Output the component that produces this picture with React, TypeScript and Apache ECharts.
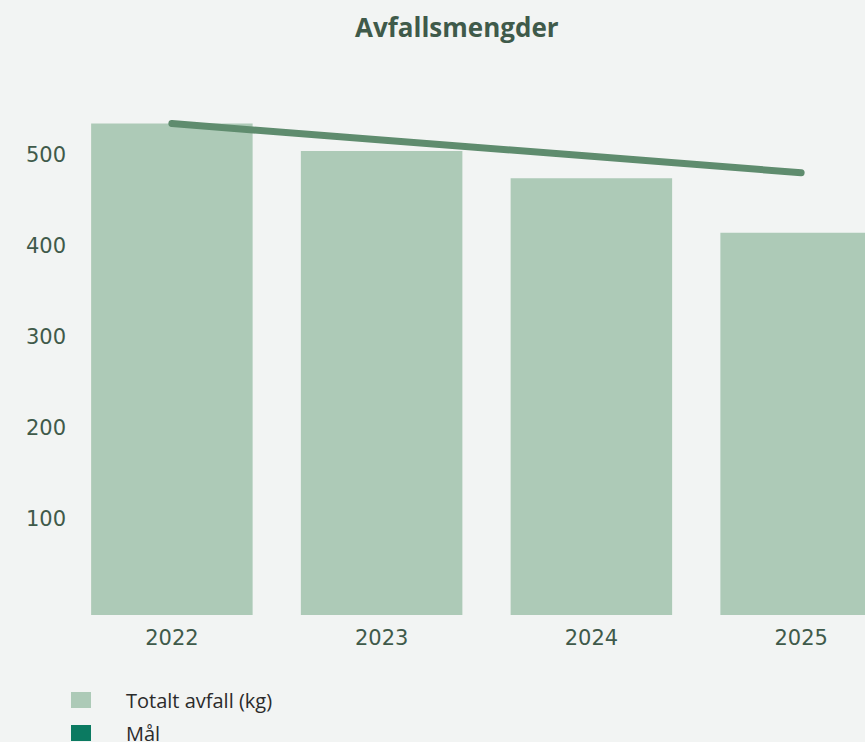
import React, { useEffect, useRef } from "react";
import * as echarts from "echarts";

const categories = ["2022", "2023", "2024", "2025"];
const totalWaste = [540, 510, 480, 420];
const target = [540, 522, 504, 486];
const yTicks = [100, 200, 300, 400, 500];

const FONT = "'Open Sans', Lato, sans-serif";
const NUM_FONT = "'DejaVu Sans', sans-serif";

export default function App() {
  const ref = useRef<HTMLDivElement>(null);
  useEffect(() => {
    if (!ref.current) return;
    const chart = echarts.init(ref.current, undefined, { renderer: "svg" });
    chart.setOption({
      animation: false,
      backgroundColor: "#f2f4f3",
      title: {
        text: "Avfallsmengder",
        left: 355,
        top: 14,
        padding: 0,
        textStyle: { fontFamily: FONT, fontSize: 26, fontWeight: "bold", color: "#3f5a4a" },
      },
      grid: { left: 67, right: 0, top: 69, bottom: 165 },
      legend: {
        orient: "vertical",
        left: 71,
        top: 690,
        padding: 0,
        itemWidth: 20,
        itemHeight: 16,
        itemGap: 13,
        icon: "rect",
        textStyle: { fontFamily: FONT, fontSize: 20, color: "#2b2b2b", padding: [0, 0, 0, 30] },
        data: [
          { name: "Totalt avfall (kg)", itemStyle: { color: "#adcab7" } },
          { name: "Mål", itemStyle: { color: "#0b7a61" } },
        ],
      },
      xAxis: {
        type: "category",
        data: categories,
        axisLine: { show: false },
        axisTick: { show: false },
        axisLabel: { fontFamily: NUM_FONT, fontSize: 21, color: "#3f5a4a", margin: 12 },
      },
      yAxis: {
        type: "value",
        min: 0,
        max: 600,
        interval: 100,
        splitLine: { show: false },
        axisLine: { show: false },
        axisTick: { show: false },
        axisLabel: {
          align: "left",
          margin: 41,
          formatter: (v: number) => (yTicks.includes(v) ? "{a|" + v + "}" : ""),
          rich: {
            a: {
              fontFamily: NUM_FONT,
              fontSize: 21,
              color: "#3f5a4a",
              padding: [0, 0, 10, 0],
            },
          },
        },
      },
      series: [
        {
          name: "Totalt avfall (kg)",
          type: "bar",
          data: totalWaste,
          barCategoryGap: "23%",
          itemStyle: { color: "#adcab7" },
        },
        {
          name: "Mål",
          type: "line",
          data: target,
          symbol: "none",
          lineStyle: { color: "#5f8c6e", width: 7, cap: "round" },
          itemStyle: { color: "#0b7a61" },
        },
      ],
    });
    return () => chart.dispose();
  }, []);
  return (
    <div
      style={{
        position: "fixed",
        left: 0,
        top: 0,
        width: 865,
        height: 742,
        overflow: "hidden",
      }}
    >
      <div ref={ref} style={{ width: 906, height: 780 }} />
    </div>
  );
}
